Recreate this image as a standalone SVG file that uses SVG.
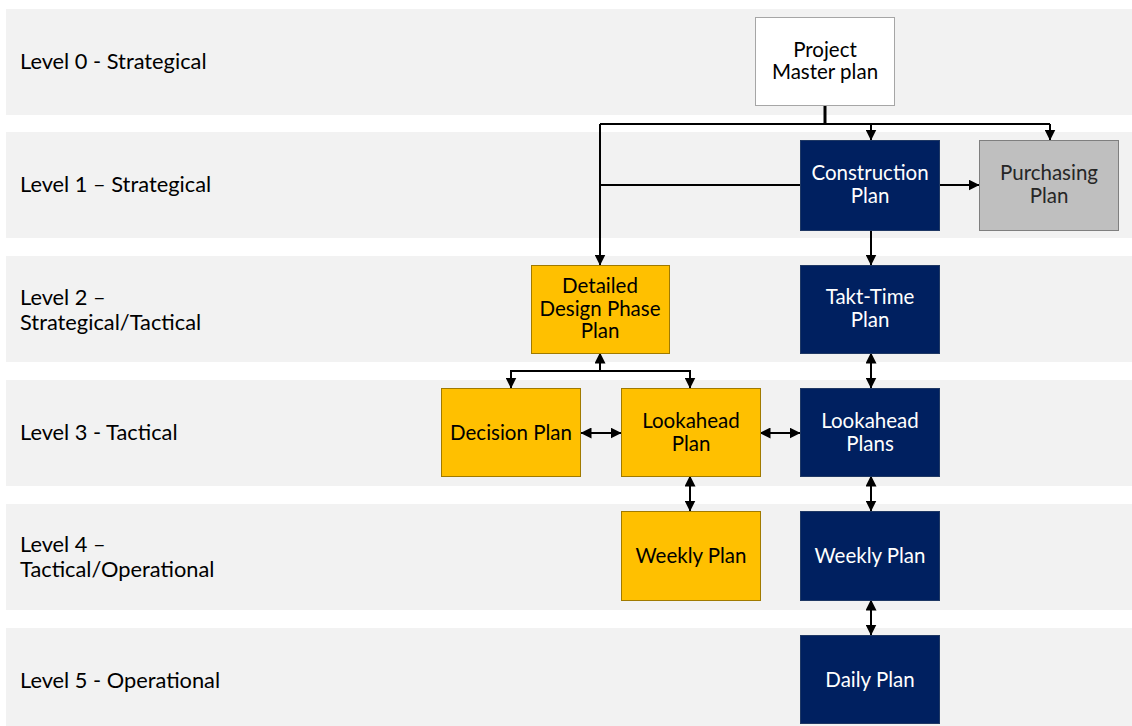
<svg xmlns="http://www.w3.org/2000/svg" width="1132" height="726" viewBox="0 0 1132 726">
<style>
.band{fill:#F2F2F2}
.lbl{font-family:Lato,"Liberation Sans",sans-serif;font-size:21.8px;fill:#000}
.nt{font-family:Lato,"Liberation Sans",sans-serif;font-size:20.5px;text-anchor:middle}
.navy{fill:#002060;stroke:#1F3864;stroke-width:1}
.yel{fill:#FFC000;stroke:#A07A00;stroke-width:1}
.gry{fill:#BFBFBF;stroke:#7F7F7F;stroke-width:1}
.wht{fill:#FFFFFF;stroke:#A6A6A6;stroke-width:1}
.tw{fill:#FFFFFF}
.tk{fill:#000000}
.tg{fill:#262626}
.c{fill:none;stroke:#000;stroke-width:2}
</style>
<defs>
<marker id="ah" markerUnits="userSpaceOnUse" viewBox="0 0 11 11" refX="10.5" refY="5.5" markerWidth="11" markerHeight="11" orient="auto-start-reverse">
<path d="M0,0 L11,5.5 L0,11 z" fill="#000"/>
</marker>
</defs>
<g id="bands">
<rect class="band" x="6" y="9" width="1126" height="106"/>
<rect class="band" x="6" y="132" width="1126" height="106"/>
<rect class="band" x="6" y="256" width="1126" height="106"/>
<rect class="band" x="6" y="380" width="1126" height="106"/>
<rect class="band" x="6" y="504" width="1126" height="106"/>
<rect class="band" x="6" y="628" width="1126" height="106"/>
</g>
<g id="level-labels">
<text class="lbl" x="20" y="69">Level 0 - Strategical</text>
<text class="lbl" x="20" y="192">Level 1 – Strategical</text>
<text class="lbl" x="20" y="305">Level 2 –</text>
<text class="lbl" x="20" y="330">Strategical/Tactical</text>
<text class="lbl" x="20" y="440">Level 3 - Tactical</text>
<text class="lbl" x="20" y="552">Level 4 –</text>
<text class="lbl" x="20" y="577">Tactical/Operational</text>
<text class="lbl" x="20" y="688">Level 5 - Operational</text>
</g>
<g id="connectors">
<path class="c" d="M825,105 V124" style="stroke-width:3"/>
<path class="c" d="M600,124 H1050"/>
<path class="c" d="M871,124 V140" marker-end="url(#ah)"/>
<path class="c" d="M1050,124 V140" marker-end="url(#ah)"/>
<path class="c" d="M600,124 V265" marker-end="url(#ah)"/>
<path class="c" d="M800,185 H600"/>
<path class="c" d="M939,185 H979" marker-end="url(#ah)"/>
<path class="c" d="M871,230 V265" marker-end="url(#ah)"/>
<path class="c" d="M871,353 V388" marker-start="url(#ah)" marker-end="url(#ah)"/>
<path class="c" d="M600,371 V353" marker-end="url(#ah)"/>
<path class="c" d="M511,388 V371 H690 V388" marker-start="url(#ah)" marker-end="url(#ah)"/>
<path class="c" d="M581,433 H621" marker-start="url(#ah)" marker-end="url(#ah)"/>
<path class="c" d="M760,433 H800" marker-start="url(#ah)" marker-end="url(#ah)"/>
<path class="c" d="M690,476 V511" marker-start="url(#ah)" marker-end="url(#ah)"/>
<path class="c" d="M871,476 V511" marker-start="url(#ah)" marker-end="url(#ah)"/>
<path class="c" d="M871,600 V635" marker-start="url(#ah)" marker-end="url(#ah)"/>
</g>
<g id="project-master-plan">
<rect class="wht" x="755.5" y="17.5" width="139" height="88"/>
<text class="nt tk" x="825" y="57">Project</text>
<text class="nt tk" x="825" y="79">Master plan</text>
</g>
<g id="construction-plan">
<rect class="navy" x="800.5" y="140.5" width="139" height="90"/>
<text class="nt tw" x="870" y="180">Construction</text>
<text class="nt tw" x="870" y="203">Plan</text>
</g>
<g id="purchasing-plan">
<rect class="gry" x="979.5" y="140.5" width="139" height="90"/>
<text class="nt tg" x="1049" y="180">Purchasing</text>
<text class="nt tg" x="1049" y="203">Plan</text>
</g>
<g id="detailed-design-phase-plan">
<rect class="yel" x="531.5" y="265.5" width="138" height="88"/>
<text class="nt tk" x="600" y="293">Detailed</text>
<text class="nt tk" x="600" y="316">Design Phase</text>
<text class="nt tk" x="600" y="338">Plan</text>
</g>
<g id="takt-time-plan">
<rect class="navy" x="800.5" y="265.5" width="139" height="88"/>
<text class="nt tw" x="870" y="304">Takt-Time</text>
<text class="nt tw" x="870" y="327">Plan</text>
</g>
<g id="decision-plan">
<rect class="yel" x="441.5" y="388.5" width="139" height="88"/>
<text class="nt tk" x="511" y="440">Decision Plan</text>
</g>
<g id="lookahead-plan">
<rect class="yel" x="621.5" y="388.5" width="139" height="88"/>
<text class="nt tk" x="691" y="428">Lookahead</text>
<text class="nt tk" x="691" y="451">Plan</text>
</g>
<g id="lookahead-plans">
<rect class="navy" x="800.5" y="388.5" width="139" height="88"/>
<text class="nt tw" x="870" y="428">Lookahead</text>
<text class="nt tw" x="870" y="451">Plans</text>
</g>
<g id="weekly-plan-design">
<rect class="yel" x="621.5" y="511.5" width="139" height="89"/>
<text class="nt tk" x="691" y="563">Weekly Plan</text>
</g>
<g id="weekly-plan-construction">
<rect class="navy" x="800.5" y="511.5" width="139" height="89"/>
<text class="nt tw" x="870" y="563">Weekly Plan</text>
</g>
<g id="daily-plan">
<rect class="navy" x="800.5" y="635.5" width="139" height="88"/>
<text class="nt tw" x="870" y="687">Daily Plan</text>
</g>
</svg>
